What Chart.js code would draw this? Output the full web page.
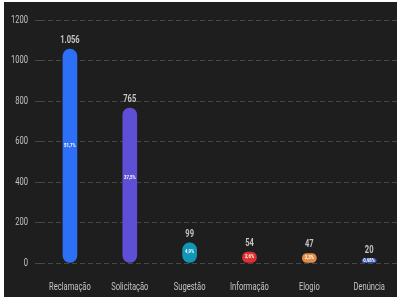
<!DOCTYPE html>
<html>
<head>
<meta charset="utf-8">
<script src="https://cdn.jsdelivr.net/npm/chart.js@4"></script>
<style>
  html, body { margin: 0; padding: 0; background: #ffffff; }
  #frame { position: absolute; left: 4px; top: 2px; width: 393px; height: 295px; background: #1e1e1e; overflow: hidden; }
  #wrap { position: absolute; left: -4px; top: -2px; width: 401px; height: 299px; }
</style>
</head>
<body>
<div id="frame"><div id="wrap"><canvas id="c" width="401" height="299"></canvas></div></div>
<script>
const categories = ["Reclamação", "Solicitação", "Sugestão", "Informação", "Elogio", "Denúncia"];
const values = [1056, 765, 99, 54, 47, 20];
const valueLabels = ["1.056", "765", "99", "54", "47", "20"];
const percentLabels = ["51,7%", "37,5%", "4,9%", "2,6%", "2,3%", "0,98%"];
const barColors = ["#2d6ff7", "#5d4fd6", "#1097b8", "#e0302f", "#e38c45", "#3b5fc8"];
const yTicks = [0, 200, 400, 600, 800, 1000, 1200];

const FONT = "Roboto, 'Liberation Sans', sans-serif";

// condensed look: squeeze all text horizontally about its anchor
(function () {
  const P = CanvasRenderingContext2D.prototype;
  const orig = P.fillText;
  P.fillText = function (t, x, y, mw) {
    this.save();
    this.translate(x, y);
    this.scale(0.72, 1);
    if (mw !== undefined) orig.call(this, t, 0, 0, mw / 0.72); else orig.call(this, t, 0, 0);
    this.restore();
  };
})();

const labelPlugin = {
  id: 'barLabels',
  afterDatasetsDraw(chart) {
    const ctx = chart.ctx;
    const meta = chart.getDatasetMeta(0);
    ctx.save();
    meta.data.forEach((bar, i) => {
      const top = bar.y, base = bar.base;
      ctx.textAlign = 'center';
      ctx.textBaseline = 'alphabetic';
      ctx.fillStyle = '#c4c4c4';
      ctx.font = "bold 10.5px " + FONT;
      ctx.fillText(valueLabels[i], bar.x, top - 6);
      ctx.textBaseline = 'middle';
      ctx.fillStyle = '#ffffff';
      ctx.font = "bold 6px " + FONT;
      const y = top + (base - top) * 0.45;
      ctx.fillText(percentLabels[i], bar.x, Math.min(y, base - 2));
    });
    ctx.restore();
  }
};

new Chart(document.getElementById('c'), {
  type: 'bar',
  data: {
    labels: categories,
    datasets: [{
      data: values,
      backgroundColor: barColors,
      borderWidth: 0,
      borderRadius: 7,
      borderSkipped: false,
      barThickness: 14
    }]
  },
  options: {
    responsive: false,
    animation: false,
    devicePixelRatio: 1,
    layout: { padding: { top: 20, right: 0, left: 0, bottom: 0 } },
    plugins: { legend: { display: false }, tooltip: { enabled: false } },
    scales: {
      x: {
        afterFit(axis) { axis.height = 36; },
        grid: { display: false },
        border: { display: false },
        ticks: { color: '#c4c4c4', font: { family: FONT, size: 10.5 }, padding: 10, maxRotation: 0, autoSkip: false }
      },
      y: {
        min: 0, max: 1200,
        afterBuildTicks(axis) { axis.ticks = yTicks.map(v => ({ value: v })); },
        afterFit(axis) { axis.width = 40; },
        grid: { color: '#474747', tickLength: 5, tickBorderDash: [5, 3] },
        border: { display: false, dash: [5, 3] },
        ticks: { color: '#c4c4c4', font: { family: FONT, size: 10.5 }, padding: 7, callback: v => String(v) }
      }
    }
  },
  plugins: [labelPlugin]
});
</script>
</body>
</html>
